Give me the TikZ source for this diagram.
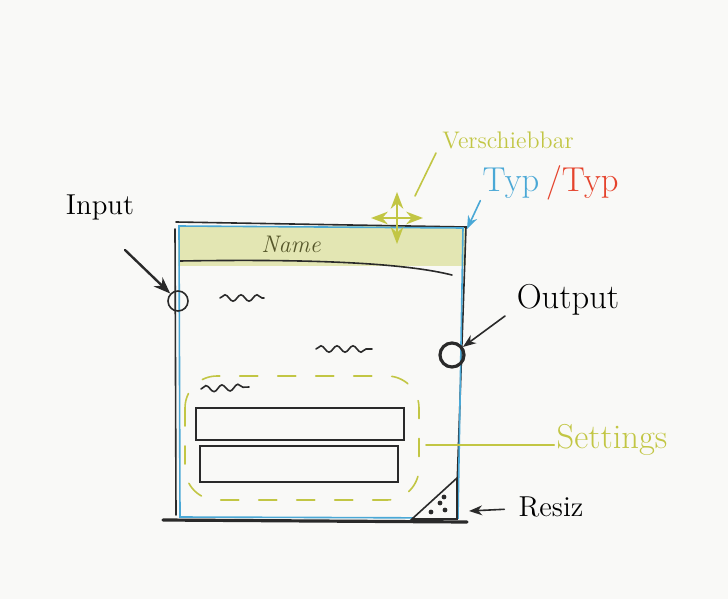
\documentclass[tikz,border=0pt]{standalone}
\definecolor{SketchLime}{HTML}{C2C644}
\definecolor{SketchBlue}{HTML}{4AA8D6}
\definecolor{SketchRed}{HTML}{E5432C}
\definecolor{SketchBar}{HTML}{E3E6B3}
\definecolor{SketchOlive}{HTML}{55562A}
\definecolor{SketchInk}{HTML}{2A2A2A}
\definecolor{SketchPaper}{HTML}{F9F9F7}
\usepackage{tikz}
\usetikzlibrary{arrows.meta,positioning,calc,decorations.pathmorphing}

\begin{document}
\begin{tikzpicture}[x=0.5pt,y=-0.5pt,>=Stealth,line cap=round,every node/.style={inner sep=1pt},
    port/.style={circle,draw=SketchInk,inner sep=0pt},
    wiggle/.style={SketchInk,thick,decorate,decoration={snake,amplitude=1.6pt,segment length=8pt}}]
      \fill[SketchPaper] (0,0) rectangle (728,599);
      \useasboundingbox (0,0) rectangle (728,599);
      % title bar
      \fill[SketchBar] (178,226) rectangle (466,266);
      \draw[SketchInk,thick] (180,261) .. controls (300,259) and (400,262) .. (452,275);
      \node[text=SketchOlive,font=\itshape\large] (nm) at (291,244) {Name};
      % window frame
      \draw[SketchInk,thick] (176,222) -- (466,227) -- (456,516);
      \draw[SketchInk,thick] (175,229) -- (176,515);
      \draw[SketchInk,line width=1.6pt] (163,520) -- (467,522);
      \draw[SketchBlue,thick] (179,226) -- (463,228) -- (458,518) -- (180,517) -- cycle;
      % ports
      \node[port,thick,minimum size=10pt] (in) at (178,301) {};
      \node[port,line width=1.6pt,minimum size=12pt] (out) at (452,355) {};
      \node[font=\Large] (inl) at (100,207) {Input};
      \node[font=\LARGE] (outl) at (568,300) {Output};
      \coordinate (it) at (125,250);
      \coordinate (ot) at (505,316);
      \draw[->,very thick,SketchInk] (it) -- (in);
      \draw[->,thick,SketchInk] (ot) -- (out);
      % content
      \draw[wiggle] (220,298) -- (264,298);
      \draw[wiggle] (316,349) -- (372,349);
      \draw[wiggle] (201,389) -- (249,387);
      % settings group
      \draw[SketchLime,thick,dashed,dash pattern=on 9pt off 10pt,rounded corners=16pt] (185,376) rectangle (419,500);
      \draw[SketchInk,thick] (196,408) rectangle (404,440);
      \draw[SketchInk,thick] (200,446) rectangle (398,482);
      \node[text=SketchLime,font=\LARGE] (set) at (612,440) {Settings};
      \coordinate (sg) at (426,445);
      \draw[SketchLime,thick] (sg) -- (sg -| set.west);
      % resize handle
      \draw[SketchInk,thick,fill=SketchPaper] (412,519) -- (457,478) -- (457,519) -- cycle;
      \foreach \p in {(444,497),(440,503),(431,512),(445,510)}
        \fill[SketchInk] \p circle (1.2pt);
      \node[font=\Large] (rs) at (551,507) {Resiz};
      \coordinate (rt) at (469,511);
      \draw[->,thick,SketchInk,shorten <=6pt] (rs) -- (rt);
      % move handle
      \coordinate (mv) at (397,218);
      \draw[<->,very thick,SketchLime] ([xshift=-13pt]mv) -- ([xshift=13pt]mv);
      \draw[<->,very thick,SketchLime] ([yshift=13pt]mv) -- ([yshift=-13pt]mv);
      \node[text=SketchLime,font=\large] (vs) at (508,140) {Verschiebbar};
      \coordinate (vt) at (436,153);
      \coordinate (vb) at (415,196);
      \draw[SketchLime,thick] (vt) -- (vb);
      % type label
      \node[text=SketchBlue,font=\LARGE] (tb) at (511,183) {Typ};
      \node[text=SketchRed,font=\LARGE,right=1pt of tb] (tr) {/Typ};
      \coordinate (wc) at (467,229);
      \draw[->,thick,SketchBlue] (tb.south west) -- (wc);
    \end{tikzpicture}
\end{document}
